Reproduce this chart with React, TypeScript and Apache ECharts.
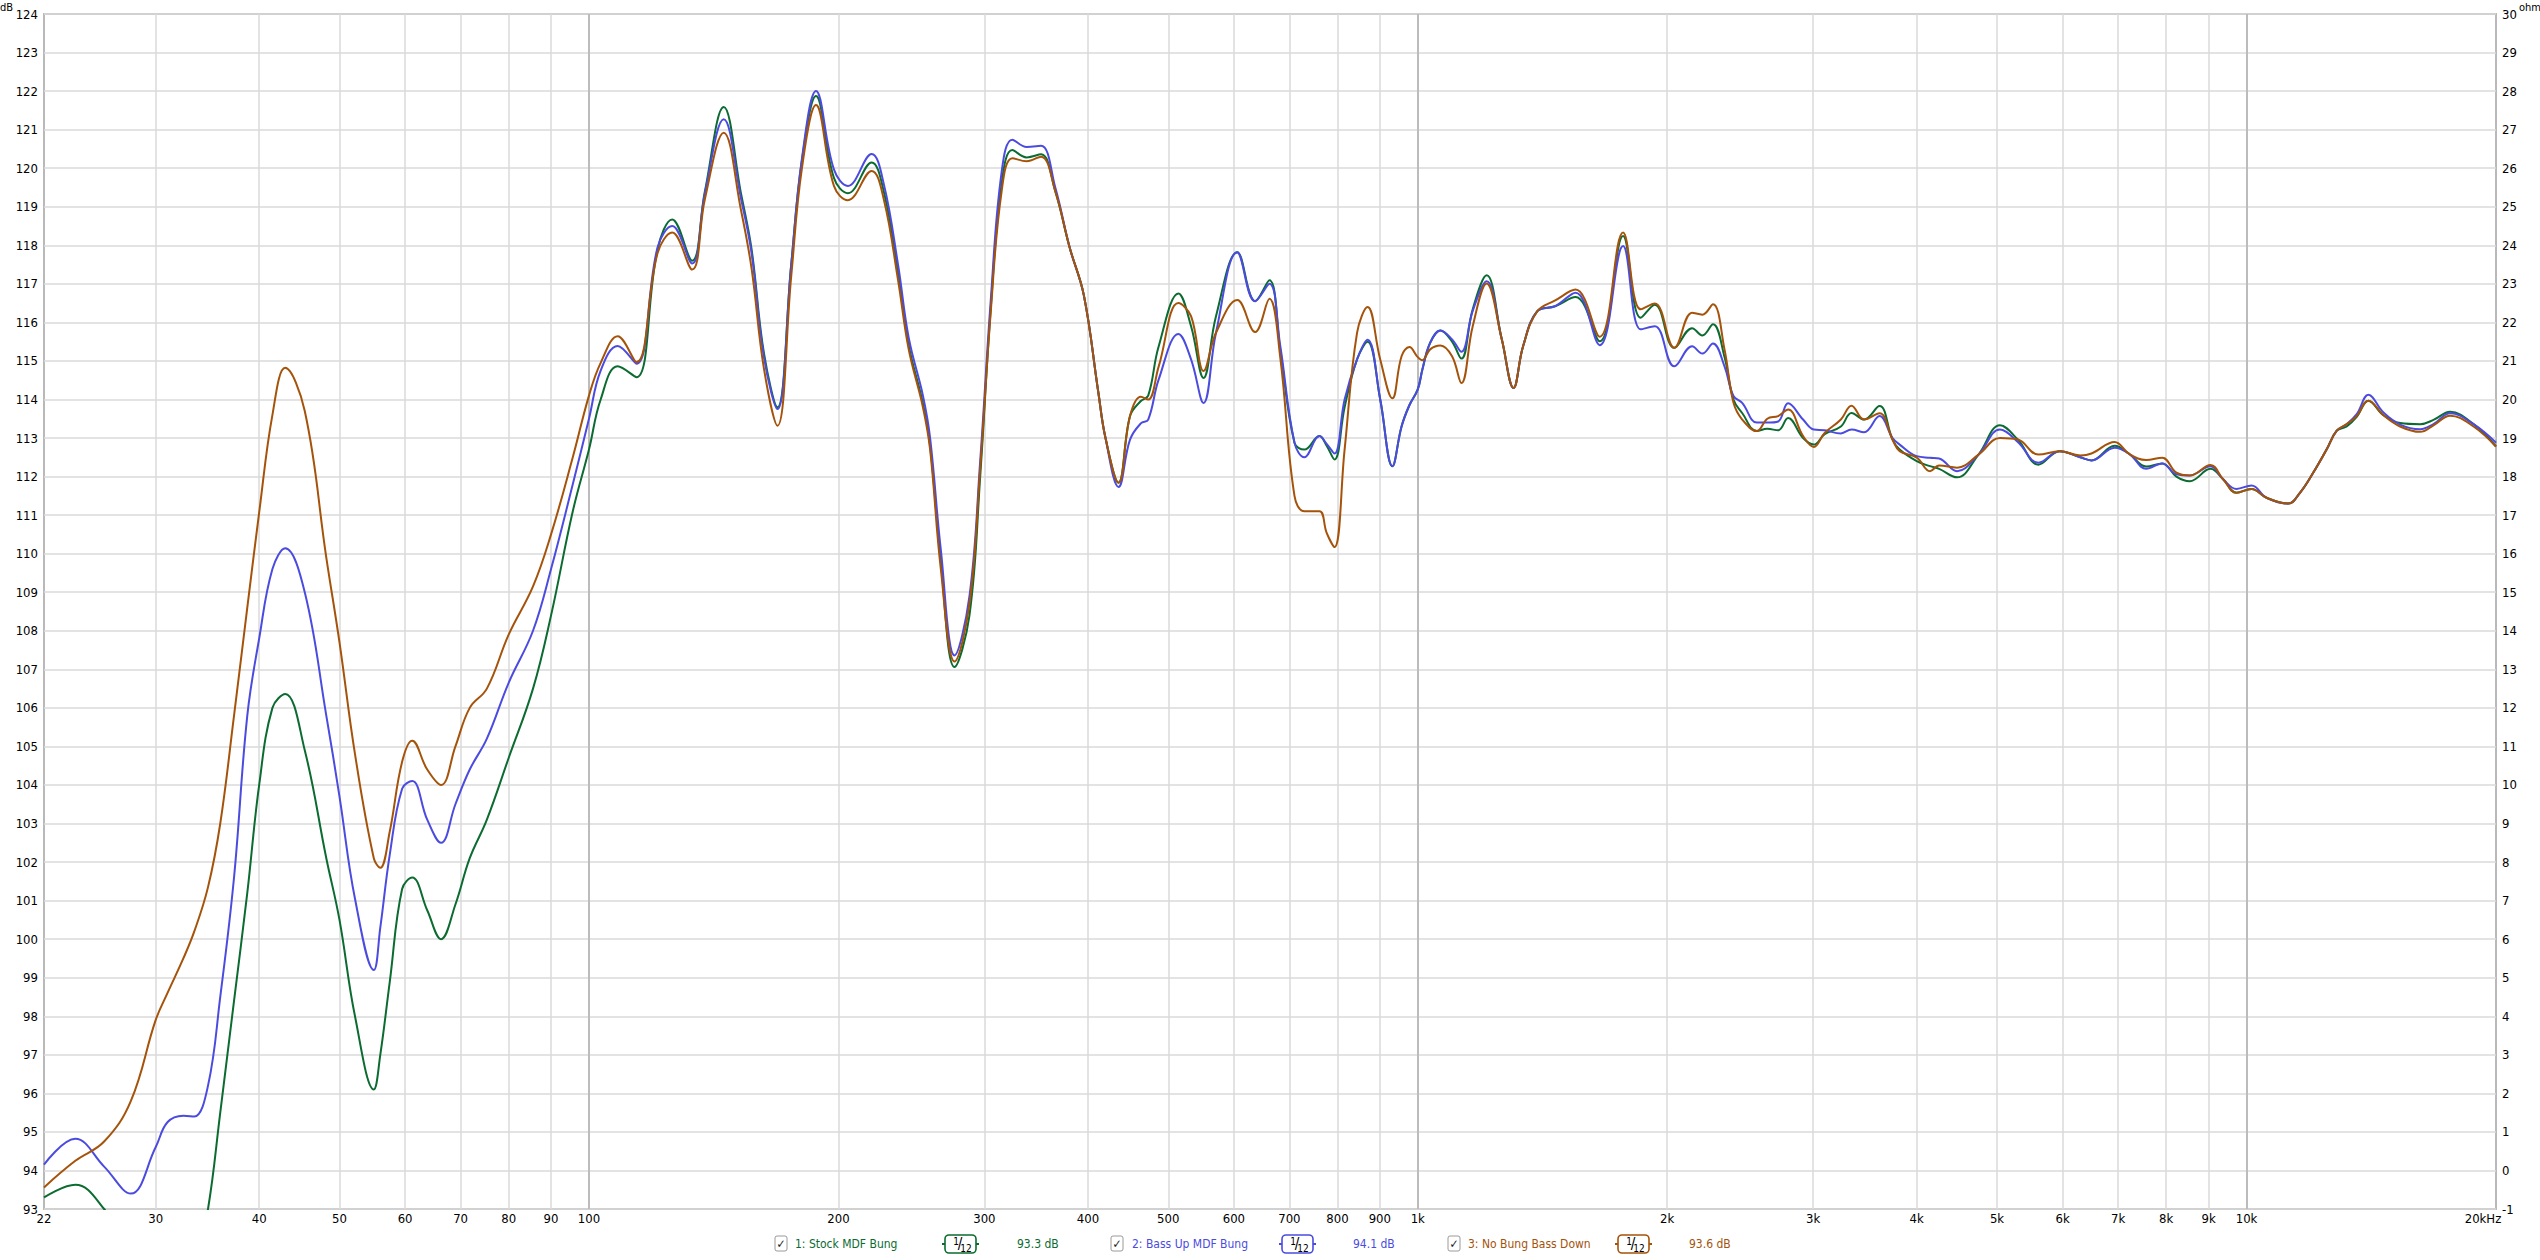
import React, { useEffect, useRef } from 'react';
import * as echarts from 'echarts';

// Frequencies (Hz) shared by the three responses
const freqs = [
  22, 24, 26, 28, 30, 31, 32.4, 33.4, 34.7, 35.9, 37.3, 38.7, 40, 41.5, 43, 45.4, 48.2, 50, 52.2, 55, 56, 57.5, 59.5, 61.2, 63.8, 66.3, 69, 71.8, 75.3, 80, 85.6, 90, 95.6,
  100, 103.3, 108.3, 114.1, 121, 126, 133.2, 138, 145.4, 152.6, 157.1, 162.6, 168.8, 175.4, 180.7, 187.9, 197.5, 205.3, 219.3, 226.8, 236, 243.1, 252.9, 258, 265.8, 276.1, 287.8, 296.5,
  305.4, 314.7, 324.2, 337.4, 351.1, 365.3, 380.1, 395.5, 411.6, 420, 435.5, 449.6, 463.3, 472.9, 486.9, 514.3, 532.7, 551.5, 570.9, 605.7, 636.5, 662.3, 682.4, 710, 729.8, 761, 776.4, 793.6, 816.1, 844.8, 870, 901, 932, 956, 977,
  1000, 1013, 1035, 1065, 1100, 1129, 1165, 1211, 1263, 1305, 1340, 1394, 1465, 1550, 1658, 1769, 1858, 1932, 2040, 2143, 2205, 2271, 2345, 2404, 2463, 2565, 2641, 2722, 2798, 2917,
  3006, 3097, 3240, 3337, 3456, 3607, 3740, 3815, 4000, 4151, 4257, 4474, 4749, 5041, 5297, 5610, 5950, 6300, 6500, 6932, 7227, 7568, 7913, 8230, 8541, 9048, 9371, 9725,
  10140, 10573, 11230, 11600, 12035, 12496, 12850, 13210, 13582, 14030, 14630, 15320, 16200, 16810, 17610, 18790, 20000,
];

// 1: Stock MDF Bung (dB)
const stockMdfBung = [
  93.3, 93.63, 93.0, 91.9, 90.9, 90.6, 90.6, 91.4, 93.0, 95.5, 98.4, 101.2, 104.0, 106.0, 106.36, 104.9, 102.1, 100.5, 98.0, 96.1, 97.0, 98.9, 101.3, 101.6, 100.75, 100.0, 100.9, 102.1, 103.1, 104.7, 106.5, 108.4, 111.1,
  112.7, 114.0, 114.86, 114.58, 117.9, 118.67, 117.6, 119.4, 121.59, 119.33, 117.9, 115.2, 113.8, 117.5, 120.2, 121.87, 119.75, 119.35, 120.15, 119.4, 117.3, 115.4, 113.9, 112.8, 109.8, 107.06, 108.4, 112.0,
  116.4, 119.6, 120.47, 120.28, 120.36, 119.4, 117.95, 116.7, 114.2, 113.0, 111.84, 113.57, 113.96, 114.1, 115.38, 116.75, 115.9, 114.56, 116.16, 117.82, 116.55, 117.09, 115.3, 112.88, 112.7, 113.05, 112.8, 112.44, 113.8, 115.04, 115.5, 114.0, 112.27, 113.3, 113.85,
  114.26, 114.78, 115.47, 115.79, 115.5, 115.06, 116.34, 117.22, 115.56, 114.3, 115.38, 116.29, 116.42, 116.66, 115.51, 118.24, 116.12, 116.46, 115.34, 115.85, 115.66, 115.95, 115.1, 114.0, 113.65, 113.18, 113.24, 113.2, 113.52, 113.0,
  112.83, 113.1, 113.3, 113.65, 113.48, 113.83, 112.96, 112.7, 112.4, 112.27, 112.2, 111.98, 112.57, 113.33, 112.96, 112.31, 112.66, 112.5, 112.42, 112.8, 112.58, 112.26, 112.34, 112.0, 111.88, 112.2, 111.93, 111.58,
  111.68, 111.45, 111.3, 111.58, 112.1, 112.71, 113.19, 113.3, 113.55, 113.97, 113.59, 113.39, 113.36, 113.47, 113.68, 113.36, 112.78,
];

// 2: Bass Up MDF Bung (dB)
const bassUpMdfBung = [
  94.15, 94.82, 94.1, 93.4, 94.6, 95.25, 95.42, 95.4, 96.2, 98.5, 101.6, 105.8, 107.8, 109.6, 110.14, 109.0, 105.8, 103.7, 101.05, 99.2, 100.3, 102.2, 103.9, 104.1, 103.1, 102.5, 103.5, 104.4, 105.2, 106.65, 108.0, 109.6, 111.8,
  113.5, 114.75, 115.39, 114.93, 117.95, 118.5, 117.53, 119.35, 121.27, 119.2, 117.8, 115.1, 113.75, 117.5, 120.25, 122.0, 119.97, 119.54, 120.37, 119.6, 117.5, 115.6, 114.1, 113.0, 110.1, 107.36, 108.9, 112.4,
  116.6, 119.9, 120.74, 120.55, 120.58, 119.5, 117.95, 116.7, 114.2, 113.0, 111.73, 112.96, 113.38, 113.48, 114.52, 115.7, 115.04, 113.91, 115.73, 117.82, 116.55, 117.0, 115.4, 112.88, 112.5, 113.05, 112.85, 112.6, 114.0, 115.04, 115.55, 114.0, 112.27, 113.3, 113.85,
  114.26, 114.78, 115.47, 115.79, 115.56, 115.24, 116.3, 117.07, 115.56, 114.3, 115.38, 116.29, 116.42, 116.77, 115.41, 117.98, 115.82, 115.9, 114.86, 115.38, 115.19, 115.45, 114.86, 114.09, 113.91, 113.4, 113.4, 113.43, 113.9, 113.48,
  113.22, 113.2, 113.12, 113.22, 113.15, 113.57, 113.0, 112.83, 112.53, 112.49, 112.47, 112.14, 112.57, 113.22, 112.9, 112.36, 112.66, 112.5, 112.42, 112.75, 112.58, 112.2, 112.34, 112.06, 112.03, 112.27, 111.93, 111.68,
  111.77, 111.45, 111.3, 111.58, 112.1, 112.71, 113.19, 113.36, 113.62, 114.12, 113.66, 113.35, 113.23, 113.36, 113.64, 113.36, 112.88,
];

// 3: No Bung Bass Down (dB)
const noBungBassDown = [
  93.56, 94.25, 94.75, 95.8, 97.9, 98.6, 99.5, 100.2, 101.35, 103.0, 105.8, 108.6, 111.07, 113.6, 114.82, 113.7, 109.9, 107.7, 104.8, 102.1, 101.85, 102.8, 104.6, 105.15, 104.4, 104.0, 105.0, 106.0, 106.5, 107.9, 109.15, 110.5, 112.5,
  114.1, 114.95, 115.64, 114.97, 117.8, 118.33, 117.37, 119.2, 120.92, 118.9, 117.4, 114.8, 113.32, 117.2, 120.0, 121.64, 119.54, 119.17, 119.93, 119.2, 117.1, 115.3, 113.8, 112.7, 109.6, 107.2, 108.7, 112.2,
  116.3, 119.4, 120.26, 120.18, 120.3, 119.4, 117.95, 116.7, 114.2, 113.0, 111.84, 113.57, 114.07, 114.0, 114.86, 116.5, 116.16, 114.74, 115.73, 116.58, 115.75, 116.61, 115.1, 111.5, 111.1, 111.1, 110.54, 110.17, 112.7, 115.73, 116.4, 115.04, 114.03, 115.12, 115.36,
  115.1, 115.02, 115.3, 115.4, 115.12, 114.43, 115.9, 117.01, 115.56, 114.3, 115.38, 116.29, 116.57, 116.85, 115.63, 118.33, 116.34, 116.49, 115.34, 116.25, 116.2, 116.47, 115.3, 113.92, 113.48, 113.18, 113.5, 113.57, 113.74, 113.05,
  112.77, 113.13, 113.48, 113.84, 113.48, 113.64, 112.96, 112.66, 112.49, 112.14, 112.29, 112.23, 112.57, 113.0, 112.96, 112.57, 112.66, 112.55, 112.6, 112.9, 112.58, 112.43, 112.49, 112.1, 112.03, 112.3, 111.93, 111.58,
  111.68, 111.45, 111.3, 111.58, 112.1, 112.71, 113.19, 113.36, 113.57, 113.97, 113.59, 113.3, 113.16, 113.33, 113.58, 113.3, 112.78,
];

const xTickValues = [22, 30, 40, 50, 60, 70, 80, 90, 100, 200, 300, 400, 500, 600, 700, 800, 900, 1000, 2000, 3000, 4000, 5000, 6000, 7000, 8000, 9000, 10000, 20000];
const xTickLabels = ['22', '30', '40', '50', '60', '70', '80', '90', '100', '200', '300', '400', '500', '600', '700', '800', '900', '1k', '2k', '3k', '4k', '5k', '6k', '7k', '8k', '9k', '10k', '20kHz'];
const majorFreqs = [100, 1000, 10000];

const seriesNames = ['1: Stock MDF Bung', '2: Bass Up MDF Bung', '3: No Bung Bass Down'];
const seriesLevels = ['93.3 dB', '94.1 dB', '93.6 dB'];
const seriesColors = ['#0b6b31', '#4b4be0', '#a5530a'];

const FONT = "'DejaVu Sans Condensed', 'Liberation Sans', Arial, sans-serif";

export default function App() {
  const ref = useRef<HTMLDivElement>(null);

  useEffect(() => {
    document.body.style.margin = '0';
    document.body.style.overflow = 'hidden';
    if (!ref.current) return;
    const chart = echarts.init(ref.current, undefined, { renderer: 'svg' });

    const dataSets = [stockMdfBung, bassUpMdfBung, noBungBassDown];

    const lineSeries = dataSets.map((arr, i) => ({
      type: 'line',
      name: seriesNames[i],
      data: freqs.map((f, k) => [f, arr[k]]),
      smooth: 0.4,
      showSymbol: false,
      symbol: 'none',
      clip: true,
      z: 5 + i,
      lineStyle: { color: seriesColors[i], width: 2 },
      itemStyle: { color: seriesColors[i] },
      silent: true,
    }));

    const gridSeries = {
      type: 'line',
      data: [],
      z: 1,
      silent: true,
      markLine: {
        silent: true,
        symbol: 'none',
        animation: false,
        label: {
          show: true,
          position: 'start',
          distance: 3,
          color: '#000',
          fontSize: 13,
          fontFamily: FONT,
        },
        data: xTickValues.map((v, i) => ({
          xAxis: v,
          lineStyle: {
            color: v === 22 || v === 20000 ? 'rgba(0,0,0,0)' : majorFreqs.includes(v) ? '#bcbcbc' : '#dadada',
            width: majorFreqs.includes(v) ? 2 : 1.5,
            type: 'solid',
          },
          label: v === 20000
            ? { formatter: xTickLabels[i], padding: [0, 26, 0, 0] }
            : { formatter: xTickLabels[i] },
        })),
      },
    };

    const legendGraphics: any[] = [];
    const checkX = [781, 1117, 1454];
    const textX = [795, 1132, 1468];
    const iconX = [944, 1281, 1617];
    const levelX = [1017, 1353, 1689];
    const cy = 1244;
    for (let i = 0; i < 3; i++) {
      legendGraphics.push(
        { type: 'rect', shape: { x: checkX[i] - 6, y: cy - 8, width: 12, height: 15, r: 2 }, style: { fill: '#fff', stroke: '#9a9a9a', lineWidth: 1 } },
        { type: 'text', x: checkX[i], y: cy, style: { text: '✓', fill: '#222', font: `12px ${FONT}`, align: 'center', verticalAlign: 'middle' } },
        { type: 'text', x: textX[i], y: cy, style: { text: seriesNames[i], fill: seriesColors[i], font: `12px ${FONT}`, align: 'left', verticalAlign: 'middle' } },
        { type: 'line', shape: { x1: iconX[i] - 2, y1: cy, x2: iconX[i] + 35, y2: cy }, style: { stroke: seriesColors[i], lineWidth: 2 } },
        { type: 'rect', shape: { x: iconX[i] + 1, y: cy - 9, width: 31, height: 18, r: 4 }, style: { fill: '#fff', stroke: seriesColors[i], lineWidth: 1.6 } },
        { type: 'text', x: iconX[i] + 12, y: cy - 3, style: { text: '1', fill: '#000', font: `10px ${FONT}`, align: 'center', verticalAlign: 'middle' } },
        { type: 'text', x: iconX[i] + 16, y: cy, style: { text: '/', fill: '#000', font: `15px ${FONT}`, align: 'center', verticalAlign: 'middle' } },
        { type: 'text', x: iconX[i] + 22, y: cy + 4, style: { text: '12', fill: '#000', font: `10px ${FONT}`, align: 'center', verticalAlign: 'middle' } },
        { type: 'text', x: levelX[i], y: cy, style: { text: seriesLevels[i], fill: seriesColors[i], font: `12px ${FONT}`, align: 'left', verticalAlign: 'middle' } },
      );
    }

    const option: any = {
      animation: false,
      backgroundColor: '#ffffff',
      grid: {
        left: 44,
        right: 44,
        top: 14,
        bottom: 51,
        show: true,
        borderColor: '#b9b9b9',
        borderWidth: 2,
        backgroundColor: 'transparent',
      },
      xAxis: {
        type: 'log',
        logBase: 10,
        min: 22,
        max: 20000,
        axisLine: { show: false },
        axisTick: { show: false },
        axisLabel: { show: false },
        splitLine: { show: false },
        minorSplitLine: { show: false },
      },
      yAxis: [
        {
          type: 'value',
          min: 93,
          max: 124,
          interval: 1,
          position: 'left',
          axisLine: { show: false },
          axisTick: { show: false },
          axisLabel: { color: '#000', fontSize: 13, fontFamily: FONT, margin: 6 },
          splitLine: { show: true, lineStyle: { color: '#dadada', width: 1.5 } },
        },
        {
          type: 'value',
          min: -1,
          max: 30,
          interval: 1,
          position: 'right',
          axisLine: { show: false },
          axisTick: { show: false },
          axisLabel: { color: '#000', fontSize: 13, fontFamily: FONT, margin: 6 },
          splitLine: { show: false },
        },
      ],
      graphic: [
        { type: 'text', x: 13, y: 7, style: { text: 'dB', fill: '#000', font: `11px ${FONT}`, align: 'right', verticalAlign: 'middle' } },
        { type: 'text', x: 2519, y: 7, style: { text: 'ohm', fill: '#000', font: `11px ${FONT}`, align: 'left', verticalAlign: 'middle' } },
        ...legendGraphics,
      ],
      series: [gridSeries, ...lineSeries],
    };

    chart.setOption(option);
    return () => chart.dispose();
  }, []);

  return <div ref={ref} style={{ width: 2540, height: 1260 }} />;
}
